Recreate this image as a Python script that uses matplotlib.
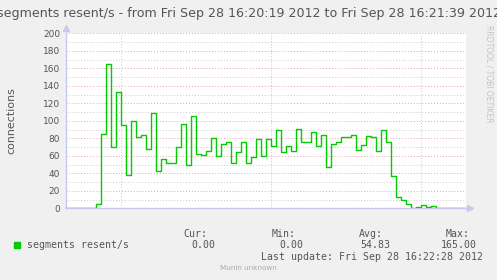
import pandas as pd
import matplotlib
matplotlib.use("Agg")
import matplotlib.pyplot as plt
import matplotlib.dates as mdates

# segments resent per second, one value per second from 16:20:19
values = [0, 0, 0, 0, 0, 0, 5, 85, 165, 70, 133, 95, 38, 100, 81, 84, 68, 109,
          43, 56, 52, 52, 70, 96, 49, 105, 62, 61, 66, 80, 60, 73, 76, 52, 64,
          76, 52, 59, 79, 60, 79, 71, 89, 64, 71, 65, 91, 76, 76, 87, 71, 84,
          47, 74, 76, 82, 81, 84, 67, 72, 83, 81, 66, 90, 76, 37, 13, 9, 5, 0,
          2, 4, 1, 3, 0, 0, 0, 0, 0, 0]
start = "2012-09-28 16:20:19"
series_label = "segments resent/s"
stats_heads = ["Cur:", "Min:", "Avg:", "Max:"]
stats_vals = ["0.00", "0.00", "54.83", "165.00"]
last_update = "Last update: Fri Sep 28 16:22:28 2012"

times = pd.date_range(start, periods=len(values) + 1, freq="s")
ys = values + [values[-1]]

W, H = 497, 280
fig = plt.figure(figsize=(W / 100, H / 100), dpi=100, facecolor="#F0F0F0")
ax = fig.add_axes([66 / W, 1 - 208.3 / H, 400 / W, 175 / H])
ax.set_facecolor("white")

ax.step(times, ys, where="post", color="#00CC00", lw=1.0, zorder=3)

ax.set_xlim(times[0], times[-1])
ax.set_ylim(0, 200)

# grid
ax.set_yticks(range(0, 201, 20))
ax.set_yticks(range(0, 201, 10), minor=True)
ax.xaxis.set_major_locator(mdates.SecondLocator(bysecond=[0, 30]))
ax.xaxis.set_major_formatter(plt.NullFormatter())
ax.grid(True, which="minor", axis="y", color="#C8C8C8", lw=0.7, ls=(0, (1, 2)))
ax.grid(True, which="major", axis="y", color="#E2A8A8", lw=0.7, ls=(0, (1, 2)))
ax.grid(True, which="major", axis="x", color="#C8C8C8", lw=0.7, ls=(0, (1, 2)))
ax.set_axisbelow(True)
ax.tick_params(axis="both", which="both", length=0)
ax.tick_params(axis="y", labelsize=6.5, labelcolor="#555555", pad=4.3)

for s in ["top", "right"]:
    ax.spines[s].set_visible(False)
for s in ["left", "bottom"]:
    ax.spines[s].set_color("#C8C8F0")
    ax.spines[s].set_linewidth(1.0)
ax.plot([0], [1.03], marker="^", ms=4, color="#C8C8F0", transform=ax.transAxes, clip_on=False)
ax.plot([1.01], [0], marker=">", ms=4, color="#C8C8F0", transform=ax.transAxes, clip_on=False)

ax.set_ylabel("connections", fontsize=7.9, color="#555555")
ax.yaxis.set_label_coords(-50 / 400, 0.5)

fig.text(249 / W, 1 - 14 / H,
         "segments resent/s - from Fri Sep 28 16:20:19 2012 to Fri Sep 28 16:21:39 2012",
         ha="center", va="center", fontsize=9.05, color="#555555")
fig.text(489 / W, 1 - 25 / H, "RRDTOOL / TOBI OETIKER", rotation=270,
         ha="center", va="top", fontsize=5.5, color="#C4C4C4")

# legend block
mono = "DejaVu Sans Mono"
fig.patches.append(plt.Rectangle((14 / W, 1 - 248 / H), 6 / W, 6 / H,
                                 transform=fig.transFigure, color="#00CC00"))
fig.text(27 / W, 1 - 245 / H, series_label, family=mono, fontsize=7.1,
         color="#555555", va="center")
for head, val, hx, vx in zip(stats_heads, stats_vals, [207, 296, 383, 470],
                             [215, 303, 390, 477]):
    fig.text(hx / W, 1 - 234 / H, head, family=mono, fontsize=7.1,
             color="#555555", va="center", ha="right")
    fig.text(vx / W, 1 - 245 / H, val, family=mono, fontsize=7.1,
             color="#555555", va="center", ha="right")
fig.text(483 / W, 1 - 257 / H, last_update, family=mono, fontsize=7.1,
         color="#555555", va="center", ha="right")
fig.text(248 / W, 1 - 268 / H, "Munin unknown", fontsize=5.2,
         color="#AAAAAA", va="center", ha="center")

fig.savefig("out.png", dpi=100, facecolor=fig.get_facecolor())
